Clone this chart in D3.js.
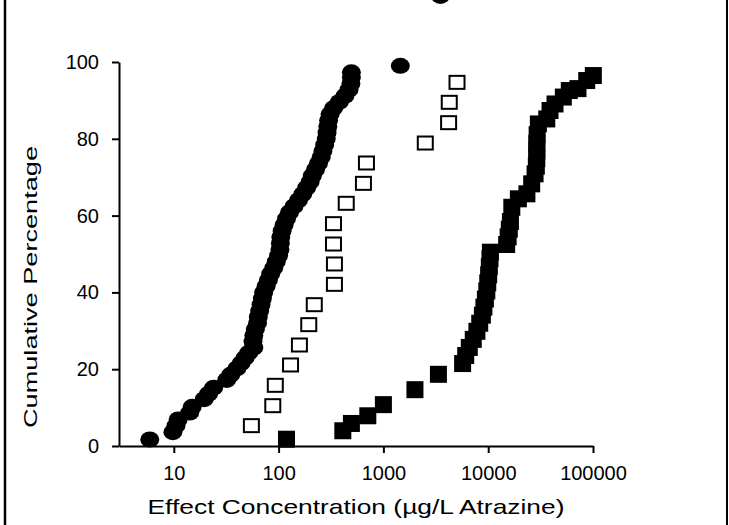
<!DOCTYPE html>
<html>
<head>
<meta charset="utf-8">
<script src="https://cdn.jsdelivr.net/npm/d3@7.9.0/dist/d3.min.js"></script>
<style>
  html, body { margin: 0; padding: 0; background: #fff; }
  svg { display: block; font-family: "Liberation Sans", Arial, sans-serif; }
</style>
</head>
<body>
<svg id="chart" width="729" height="525"></svg>
<script>
// x ticks and y ticks
const xTicks = [10, 100, 1000, 10000, 100000];
const yTicks = [0, 20, 40, 60, 80, 100];

// filled circles (concentration, cumulative %)
const circleX = [5.9, 9.8, 10.5, 11, 14.2, 15, 19.5, 21.5, 24, 32, 35, 40, 44, 48, 52, 58, 57, 58, 60, 63,
  64, 66, 68, 70, 72, 76, 80, 84, 90, 95, 100, 103, 104, 105, 108, 113, 119, 127, 140, 155,
  170, 185, 200, 210, 225, 240, 255, 265, 275, 285, 290, 295, 300, 310, 335, 380, 430, 470, 490, 495,
  495, 1450, 3500];
const circleY = [1.7, 3.6, 5.3, 6.9, 8.7, 10.2, 12.2, 13.6, 15.2, 17.2, 18.6, 20.2, 21.6, 23, 24.3, 25.6, 27.2, 28.8, 30.4, 32,
  33.6, 35.2, 36.8, 38.4, 40, 41.6, 43.2, 44.8, 46.4, 48, 49.6, 51.2, 52.8, 54.4, 56, 57.6, 59.2, 60.8, 62.4, 64,
  65.6, 67.2, 68.8, 70.4, 72, 73.6, 75.2, 76.8, 78.4, 80, 81.6, 83.2, 84.8, 86.4, 88, 89.6, 91.2, 92.8, 94.4, 96,
  97.3, 99, 117.2];

// open squares
const openX = [55, 88, 93, 130, 158, 194, 219, 341, 341, 334, 334, 442, 645, 689, 2510, 4190, 4250, 5040];
const openY = [5.3, 10.5, 15.8, 21.1, 26.3, 31.6, 36.8, 42.1, 47.4, 52.6, 57.9, 63.2, 68.4, 73.7, 78.9, 84.2, 89.5, 94.7];

// filled squares
const fillX = [119, 410, 495, 710, 1000, 2000, 3350, 5700, 6100, 6600, 7200, 7800, 8300, 8800, 9100, 9400,
  9700, 9900, 10100, 10250, 10400, 10500, 15000, 15500, 15900, 16300, 16800, 19400, 23400, 26000, 28000, 28800,
  29100, 29100, 29100, 29300, 30100, 36200, 38900, 43400, 52100, 59400, 71900, 87100, 100700];
const fillY = [1.9, 4.1, 6.0, 8.0, 10.9, 14.8, 18.8, 21.6, 23.7, 25.8, 27.9, 30.0, 32.1, 34.2, 36.3, 38.4,
  40.5, 42.6, 44.7, 46.8, 48.9, 50.6, 52.6, 54.6, 56.6, 58.6, 62.3, 64.5, 65.8, 68.4, 71.0, 73.0,
  75.0, 77.0, 79.0, 81.2, 84.0, 85.3, 87.5, 89.2, 91.0, 92.7, 93.2, 95.3, 96.6];

const svg = d3.select('#chart');

const x = d3.scaleLog().domain([3, 100000]).range([119, 593]);
const y = d3.scaleLinear().domain([0, 100]).range([446, 62]);

// frame lines left and right
svg.append('line').attr('x1', 5).attr('x2', 5).attr('y1', 0).attr('y2', 525)
  .attr('stroke', '#000').attr('stroke-width', 2.5);
svg.append('line').attr('x1', 727).attr('x2', 727).attr('y1', 0).attr('y2', 525)
  .attr('stroke', '#000').attr('stroke-width', 2);

// axes
const xAxis = svg.append('g')
  .attr('transform', `translate(0,${y(0)})`)
  .call(d3.axisBottom(x).tickValues(xTicks).tickFormat(d3.format('d'))
    .tickSize(7).tickSizeOuter(0).tickPadding(13));

const yAxis = svg.append('g')
  .attr('transform', `translate(${x.range()[0]},0)`)
  .call(d3.axisLeft(y).tickValues(yTicks).tickSize(7).tickSizeOuter(0).tickPadding(13));

[xAxis, yAxis].forEach(g => {
  g.select('.domain').attr('stroke', '#000').attr('stroke-width', 2);
  g.selectAll('.tick line').attr('stroke', '#000').attr('stroke-width', 2);
  g.selectAll('.tick text').attr('fill', '#000').style('font-size', '20px')
    .style('font-family', '"Liberation Sans", Arial, sans-serif');
});

// axis titles
svg.append('text')
  .attr('x', 356).attr('y', 514)
  .attr('text-anchor', 'middle')
  .attr('textLength', 417).attr('lengthAdjust', 'spacingAndGlyphs')
  .style('font-size', '21px')
  .text('Effect Concentration (\u00b5g/L Atrazine)');

svg.append('text')
  .attr('transform', 'translate(37,287) rotate(-90)')
  .attr('text-anchor', 'middle')
  .attr('textLength', 282).attr('lengthAdjust', 'spacingAndGlyphs')
  .style('font-size', '19px')
  .text('Cumulative Percentage');

// data marks
const circles = circleX.map((v, i) => ({ x: v, y: circleY[i] }));
const openSq = openX.map((v, i) => ({ x: v, y: openY[i] }));
const fillSq = fillX.map((v, i) => ({ x: v, y: fillY[i] }));

svg.append('g').selectAll('ellipse')
  .data(circles)
  .join('ellipse')
  .attr('cx', d => x(d.x))
  .attr('cy', d => y(d.y))
  .attr('rx', 9.5)
  .attr('ry', 8)
  .attr('fill', '#000');

svg.append('g').selectAll('rect')
  .data(openSq)
  .join('rect')
  .attr('x', d => x(d.x) - 7.5)
  .attr('y', d => y(d.y) - 6.5)
  .attr('width', 15)
  .attr('height', 13)
  .attr('fill', '#fff')
  .attr('stroke', '#000')
  .attr('stroke-width', 2);

svg.append('g').selectAll('rect')
  .data(fillSq)
  .join('rect')
  .attr('x', d => x(d.x) - 8.5)
  .attr('y', d => y(d.y) - 8)
  .attr('width', 17)
  .attr('height', 17)
  .attr('fill', '#000');
</script>
</body>
</html>
